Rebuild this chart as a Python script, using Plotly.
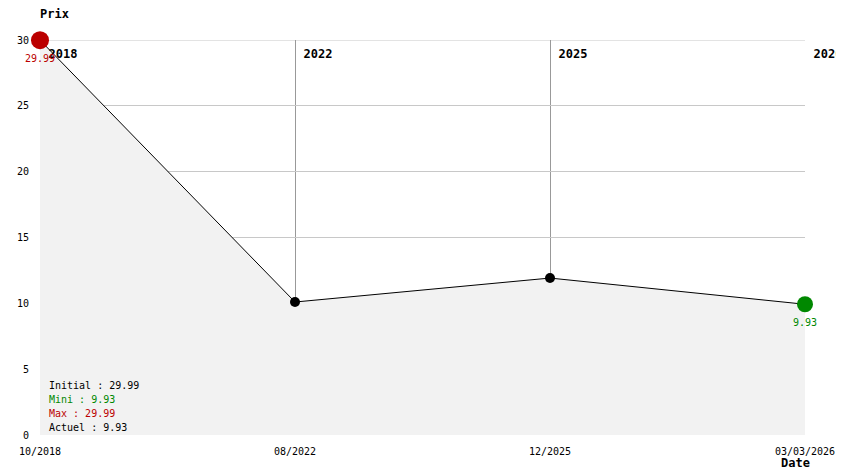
import plotly.graph_objects as go

x_pos = [0, 1, 2, 3]
prices = [29.99, 10.1, 11.92, 9.93]
x_tick_labels = ["10/2018", "08/2022", "12/2025", "03/03/2026"]
year_labels = ["2018", "2022", "2025", "2026"]
y_ticks = [0, 5, 10, 15, 20, 25, 30]
legend_lines = [("Initial : 29.99", "#000000"), ("Mini : 9.93", "#008800"),
                ("Max : 29.99", "#bb0000"), ("Actuel : 9.93", "#000000")]

FONT = "DejaVu Sans Mono"
y_top = y_ticks[-1]

fig = go.Figure()
fig.add_trace(go.Scatter(x=x_pos, y=prices, mode="lines", fill="tozeroy",
                         fillcolor="#f2f2f2", line=dict(color="#000000", width=1),
                         hoverinfo="skip", showlegend=False))
# year labels at top of each vertical line (drawn below the markers)
fig.add_trace(go.Scatter(x=x_pos, y=[y_top] * len(x_pos), mode="markers+text",
                         marker=dict(size=12, color="rgba(0,0,0,0)"),
                         text=["<b>%s</b>" % y for y in year_labels],
                         textposition="bottom right", cliponaxis=False,
                         textfont=dict(size=12, family=FONT, color="#000"),
                         hoverinfo="skip", showlegend=False))
fig.add_trace(go.Scatter(x=x_pos[1:3], y=prices[1:3], mode="markers",
                         marker=dict(color="#000000", size=10), cliponaxis=False,
                         showlegend=False))
fig.add_trace(go.Scatter(x=[x_pos[0]], y=[prices[0]], mode="markers",
                         marker=dict(color="#bb0000", size=18), cliponaxis=False,
                         showlegend=False))
fig.add_trace(go.Scatter(x=[x_pos[3]], y=[prices[3]], mode="markers",
                         marker=dict(color="#008800", size=16), cliponaxis=False,
                         showlegend=False))

annotations = []
annotations.append(dict(x=x_pos[0], y=prices[0], xref="x", yref="y", text="29.99",
                        showarrow=False, xanchor="center", yanchor="top", yshift=-11,
                        font=dict(size=10, family=FONT, color="#bb0000")))
annotations.append(dict(x=x_pos[3], y=prices[3], xref="x", yref="y", text="9.93",
                        showarrow=False, xanchor="center", yanchor="top", yshift=-11,
                        font=dict(size=10, family=FONT, color="#008800")))

plot_w, plot_h = 765, 395
for i, (t, c) in enumerate(legend_lines):
    annotations.append(dict(x=7 / plot_w, y=(435 - (385 + 14 * i)) / plot_h,
                            xref="paper", yref="paper", text=t,
                            showarrow=False, xanchor="left", yanchor="middle",
                            font=dict(size=10, family=FONT, color=c)))

annotations.append(dict(x=-2 / plot_w, y=1 + 26 / plot_h, xref="paper", yref="paper",
                        text="<b>Prix</b>", showarrow=False, xanchor="left", yanchor="middle",
                        font=dict(size=12, family=FONT, color="#000")))
annotations.append(dict(x=1 + 7 / plot_w, y=-28 / plot_h, xref="paper", yref="paper",
                        text="<b>Date</b>", showarrow=False, xanchor="right", yanchor="middle",
                        font=dict(size=12, family=FONT, color="#000")))

# the page body has an 8px default margin; compensate so the plot sits at 40..805 x 40..435
fig.update_layout(
    width=836, height=466,
    margin=dict(l=32, r=39, t=32, b=39, autoexpand=False),
    paper_bgcolor="#ffffff", plot_bgcolor="#ffffff",
    font=dict(family=FONT, size=10, color="#000"),
    annotations=annotations,
    shapes=[dict(type="line", xref="paper", x0=0, x1=1, yref="y", y0=y_top, y1=y_top,
                 line=dict(color="#c8c8c8", width=1), layer="below")],
    xaxis=dict(range=[0, 3], tickvals=x_pos, ticktext=x_tick_labels, showgrid=True,
               gridcolor="#999999", gridwidth=1, zeroline=False, showline=False,
               ticks="", automargin=False, ticklabelstandoff=9,
               tickfont=dict(size=10, family=FONT)),
    yaxis=dict(range=[0, 30], tickvals=y_ticks, showgrid=True, gridcolor="#c8c8c8",
               gridwidth=1, zeroline=False, showline=False, ticks="",
               automargin=False, ticklabelstandoff=10,
               tickfont=dict(size=10, family=FONT)),
)

fig.write_html("out.html")
